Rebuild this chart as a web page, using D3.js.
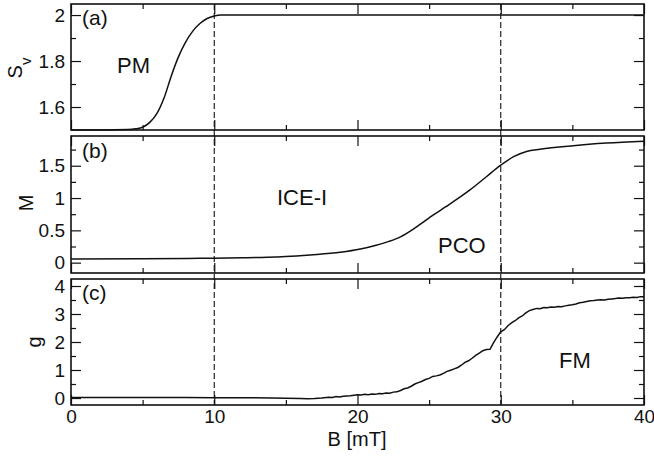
<!DOCTYPE html>
<html><head><meta charset="utf-8">
<script src="https://cdn.jsdelivr.net/npm/d3@7"></script>
<style>
html,body{margin:0;padding:0;background:#fff;}
svg text{font-family:"Liberation Sans",Arial,Helvetica,sans-serif;fill:#111;}
</style></head>
<body><svg id="c" width="654" height="457"></svg>
<script>
// ---- data ----
const xTicksMajor = [0, 10, 20, 30, 40];
const xTicksMinor = [5, 15, 25, 35];
const phaseLines = [10, 30];

const svB = [0, 2, 4, 4.5, 5, 5.5, 6, 6.5, 7.0, 7.5, 8.0, 8.5, 9.0, 9.5, 10, 10.5, 11, 20, 30, 40];
const svVal = [1.5, 1.5, 1.502, 1.505, 1.512, 1.533, 1.572, 1.640, 1.735, 1.818, 1.882, 1.930, 1.963, 1.985, 1.996, 2.0, 2.0, 2.0, 2.0, 2.0];

const mB = [0, 5, 9, 12, 13.7, 15, 16.7, 18.8, 20.2, 21.3, 22.2, 23.0, 24.1, 25.3, 26.2, 27.85, 29.0, 29.95, 30.9, 31.8, 32.74, 35.06, 37.4, 40];
const mVal = [0.057, 0.06, 0.068, 0.075, 0.083, 0.095, 0.12, 0.16, 0.21, 0.27, 0.33, 0.40, 0.55, 0.74, 0.87, 1.125, 1.33, 1.50, 1.64, 1.72, 1.755, 1.81, 1.85, 1.88];

const gB = [0, 2, 4, 6, 8, 10, 12, 14, 15, 16, 16.5, 17, 17.5,
  18.0, 18.25, 18.5, 18.75, 19.0, 19.25, 19.5, 19.75, 20.0, 20.25, 20.5, 20.75, 21.0, 21.25, 21.5, 21.75,
  22.0, 22.25, 22.5, 22.75, 23.0, 23.25, 23.5, 23.75, 24.0, 24.25, 24.5, 24.75, 25.0, 25.25, 25.5, 25.75,
  26.0, 26.25, 26.5, 26.75, 27.0, 27.25, 27.5, 27.75, 28.0, 28.25, 28.5, 28.75, 29.0, 29.25, 29.5, 29.75,
  30.0, 30.25, 30.5, 30.75, 31.0, 31.25, 31.5, 31.75, 32.0, 32.25, 32.5, 32.75, 33.0, 33.25, 33.5, 33.75,
  34.0, 34.25, 34.5, 34.75, 35.0, 35.25, 35.5, 35.75, 36.0, 36.25, 36.5, 36.75, 37.0, 37.25, 37.5, 37.75,
  38.0, 38.25, 38.5, 38.75, 39.0, 39.25, 39.5, 39.75, 40.0];
const gVal = [0.02, 0.02, 0.02, 0.02, 0.02, 0.01, 0.01, 0.0, -0.01, -0.02, -0.03, -0.02, 0.0,
  0.03, 0.02, 0.05, 0.04, 0.06, 0.07, 0.08, 0.10, 0.12, 0.11, 0.13, 0.12, 0.14, 0.13, 0.16, 0.15,
  0.18, 0.17, 0.21, 0.22, 0.27, 0.33, 0.36, 0.42, 0.50, 0.55, 0.60, 0.66, 0.70, 0.77, 0.79, 0.82,
  0.88, 0.95, 0.99, 1.04, 1.09, 1.17, 1.27, 1.33, 1.42, 1.52, 1.60, 1.69, 1.73, 1.74, 1.98, 2.18,
  2.36, 2.44, 2.58, 2.68, 2.76, 2.86, 2.93, 3.04, 3.12, 3.16, 3.20, 3.19, 3.23, 3.22, 3.25, 3.24,
  3.27, 3.26, 3.29, 3.31, 3.33, 3.36, 3.40, 3.42, 3.45, 3.47, 3.48, 3.50, 3.51, 3.50, 3.53, 3.54,
  3.55, 3.57, 3.56, 3.58, 3.58, 3.60, 3.59, 3.62, 3.62];

const svTicks = [1.6, 1.8, 2];
const svMinor = [1.7, 1.9];
const mTicks = [0, 0.5, 1, 1.5];
const mMinor = [0.25, 0.75, 1.25, 1.75];
const gTicks = [0, 1, 2, 3, 4];
const gMinor = [0.5, 1.5, 2.5, 3.5];

// ---- layout ----
const svg = d3.select("#c");
const L = 71, R = 644;
const x = d3.scaleLinear().domain([0, 40]).range([L, R]);

const panels = [
  {top: 4, bot: 130, dom: [1.5, 2.048], xs: svB, ys: svVal, major: svTicks, minor: svMinor, curve: d3.curveMonotoneX,
   tag: "(a)", tagY: 25, title: "S", sub: "v", titleX: 22, titleY: 68},
  {top: 136, bot: 273, dom: [-0.16, 1.96], xs: mB, ys: mVal, major: mTicks, minor: mMinor, curve: d3.curveMonotoneX,
   tag: "(b)", tagY: 158, title: "M", titleX: 33, titleY: 203},
  {top: 279, bot: 405, dom: [-0.25, 4.25], xs: gB, ys: gVal, major: gTicks, minor: gMinor, curve: d3.curveLinear,
   tag: "(c)", tagY: 300, title: "g", titleX: 41, titleY: 342}
];

const MAJ = 10, MIN = 5;
function clean(g){ g.select(".domain").remove(); g.selectAll("line").attr("stroke", "#111").attr("stroke-width", 1.2); }

svg.selectAll("line.phase").data(phaseLines).enter().append("line")
  .attr("x1", d => x(d)).attr("x2", d => x(d)).attr("y1", 4).attr("y2", 405)
  .attr("stroke", "#111").attr("stroke-width", 1.1).attr("stroke-dasharray", "6,3");

panels.forEach((p, i) => {
  const y = d3.scaleLinear().domain(p.dom).range([p.bot, p.top]);
  const g = svg.append("g");

  const pts = p.xs.map((b, k) => [b, p.ys[k]]);
  g.append("path").datum(pts)
    .attr("fill", "none").attr("stroke", "#111").attr("stroke-width", 1.5)
    .attr("d", d3.line().x(d => x(d[0])).y(d => y(d[1])).curve(p.curve));

  const la = g.append("g").attr("transform", `translate(${L},0)`)
    .call(d3.axisLeft(y).tickValues(p.major).tickSize(-MAJ).tickPadding(6).tickFormat(d3.format("")));
  clean(la);
  la.selectAll("text").attr("font-size", 19).attr("fill", "#111").attr("font-family", null);
  g.append("g").attr("transform", `translate(${L},0)`)
    .call(d3.axisLeft(y).tickValues(p.minor).tickSize(-MIN).tickFormat("")).call(clean);
  g.append("g").attr("transform", `translate(${R},0)`)
    .call(d3.axisRight(y).tickValues(p.major).tickSize(-MAJ).tickFormat("")).call(clean);
  g.append("g").attr("transform", `translate(${R},0)`)
    .call(d3.axisRight(y).tickValues(p.minor).tickSize(-MIN).tickFormat("")).call(clean);
  g.append("g").attr("transform", `translate(0,${p.top})`)
    .call(d3.axisTop(x).tickValues(xTicksMajor).tickSize(-MAJ).tickFormat("")).call(clean);
  g.append("g").attr("transform", `translate(0,${p.top})`)
    .call(d3.axisTop(x).tickValues(xTicksMinor).tickSize(-MIN).tickFormat("")).call(clean);
  const ba = g.append("g").attr("transform", `translate(0,${p.bot})`)
    .call(d3.axisBottom(x).tickValues(xTicksMajor).tickSize(-MAJ).tickPadding(5)
      .tickFormat(i === 2 ? d3.format("") : ""));
  clean(ba);
  ba.selectAll("text").attr("font-size", 19).attr("fill", "#111").attr("font-family", null);
  g.append("g").attr("transform", `translate(0,${p.bot})`)
    .call(d3.axisBottom(x).tickValues(xTicksMinor).tickSize(-MIN).tickFormat("")).call(clean);

  g.append("rect").attr("x", L).attr("y", p.top).attr("width", R - L).attr("height", p.bot - p.top)
    .attr("fill", "none").attr("stroke", "#111").attr("stroke-width", 1.6);

  g.append("text").attr("x", 82).attr("y", p.tagY).attr("font-size", 21).text(p.tag);

  const t = g.append("text").attr("transform", `translate(${p.titleX},${p.titleY}) rotate(-90)`)
    .attr("text-anchor", "middle").attr("font-size", 20);
  t.append("tspan").text(p.title);
  if (p.sub) t.append("tspan").attr("baseline-shift", "sub").attr("font-size", 15).text(p.sub);
});

const regionLabels = ["PM", "ICE-I", "PCO", "FM"];
const regionPos = [[117, 73], [277, 205], [438, 253], [559, 368]];
svg.selectAll("text.region").data(regionLabels).enter().append("text")
  .attr("class", "region").attr("x", (d, i) => regionPos[i][0]).attr("y", (d, i) => regionPos[i][1])
  .attr("font-size", 22).text(d => d);

svg.append("text").attr("x", 357).attr("y", 446).attr("text-anchor", "middle").attr("font-size", 20).text("B [mT]");
</script>
</body></html>
